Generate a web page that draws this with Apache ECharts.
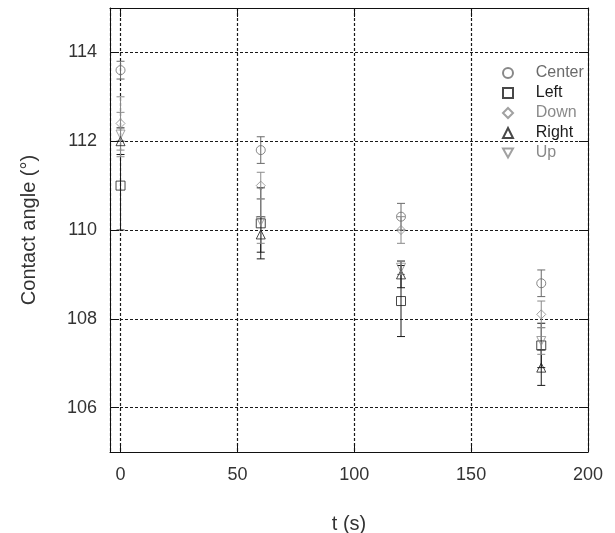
<!DOCTYPE html>
<html>
<head>
<meta charset="utf-8">
<script src="https://cdn.jsdelivr.net/npm/echarts@6/dist/echarts.min.js"></script>
<style>html,body{margin:0;padding:0;background:#fff;}#c{width:615px;height:533px;}</style>
</head>
<body>
<div id="c"></div>
<script>
// ---- data ----
const tValues = [0, 60, 120, 180];
const seriesNames = ['Center', 'Left', 'Down', 'Right', 'Up'];
const centerMean = [113.6, 111.8, 110.3, 108.8];
const centerErr  = [0.2, 0.3, 0.3, 0.3];
const leftMean   = [111.0, 110.15, 108.4, 107.4];
const leftErr    = [1.0, 0.8, 0.8, 0.5];
const downMean   = [112.4, 111.0, 110.0, 108.1];
const downErr    = [0.6, 0.3, 0.3, 0.3];
const rightMean  = [112.0, 109.9, 109.0, 106.9];
const rightErr   = [0.3, 0.4, 0.3, 0.4];
const upMean     = [112.15, 110.2, 109.15, 107.5];
const upErr      = [0.5, 0.5, 0.15, 0.3];
const xTickLabels = [0, 50, 100, 150, 200];
const yTickLabels = [106, 108, 110, 112, 114];

const means = [centerMean, leftMean, downMean, rightMean, upMean];
const errs = [centerErr, leftErr, downErr, rightErr, upErr];
const colors = ['#6a6a6a', '#1a1a1a', '#8a8a8a', '#1a1a1a', '#8a8a8a'];
const symbols = ['circle', 'rect', 'diamond', 'triangle', 'path://M0,0L10,0L5,9Z'];
const sizes = [9, 9, 9, 9, 9];

const FONT = "'Liberation Sans', Arial, sans-serif";

function errRender(color) {
  return function (params, api) {
    const x = api.value(0), lo = api.value(1), hi = api.value(2);
    const p1 = api.coord([x, hi]);
    const p2 = api.coord([x, lo]);
    const hw = 4;
    const style = { stroke: color, lineWidth: 1, fill: null };
    return {
      type: 'group',
      children: [
        { type: 'line', shape: { x1: p1[0], y1: p1[1], x2: p2[0], y2: p2[1] }, style: style },
        { type: 'line', shape: { x1: p1[0] - hw, y1: p1[1], x2: p1[0] + hw, y2: p1[1] }, style: style },
        { type: 'line', shape: { x1: p2[0] - hw, y1: p2[1], x2: p2[0] + hw, y2: p2[1] }, style: style }
      ]
    };
  };
}

const series = [];
seriesNames.forEach(function (name, i) {
  series.push({
    name: name + ' err',
    type: 'custom',
    renderItem: errRender(colors[i]),
    encode: { x: 0, y: [1, 2] },
    data: tValues.map(function (t, k) { return [t, means[i][k] - errs[i][k], means[i][k] + errs[i][k]]; }),
    z: 2,
    silent: true
  });
});
seriesNames.forEach(function (name, i) {
  series.push({
    name: name,
    type: 'scatter',
    symbol: symbols[i],
    symbolSize: sizes[i],
    data: tValues.map(function (t, k) { return [t, means[i][k]]; }),
    itemStyle: { color: 'rgba(255,255,255,0)', borderColor: colors[i], borderWidth: 1 },
    z: 3
  });
});

const axisLineStyle = { show: true, onZero: false, lineStyle: { color: '#111', width: 1 } };
const tickStyle = { show: true, inside: true, length: 9, lineStyle: { color: '#111' } };
const gridStyle = { show: true, lineStyle: { color: '#1a1a1a', type: [3, 2], width: 1.2 } };

const chart = echarts.init(document.getElementById('c'), null, { renderer: 'canvas' });
chart.setOption({
  animation: false,
  backgroundColor: '#fff',
  textStyle: { fontFamily: FONT },
  grid: { left: 110, right: 27, top: 8, bottom: 81, containLabel: false, outerBoundsMode: 'none' },
  legend: {
    orient: 'vertical',
    left: 497,
    top: 60,
    width: 118,
    itemWidth: 10,
    itemHeight: 10,
    itemGap: 4,
    formatter: function (name) { return '    ' + name; },
    data: seriesNames.map(function (n, i) {
      return { name: n, textStyle: { color: colors[i] } };
    }),
    textStyle: { fontFamily: FONT, fontSize: 16, overflow: 'none' }
  },
  xAxis: [{
    type: 'value',
    min: -4.5,
    max: 200,
    name: 't (s)',
    nameLocation: 'middle',
    nameGap: 62,
    nameTextStyle: { fontSize: 20, color: '#333', fontFamily: FONT },
    axisLine: axisLineStyle,
    axisTick: tickStyle,
    axisLabel: {
      margin: 14, fontSize: 18, color: '#333', fontFamily: FONT,
      formatter: function (v) { return xTickLabels.indexOf(v) >= 0 ? String(v) : ''; }
    },
    splitLine: gridStyle
  }, {
    type: 'value',
    position: 'top',
    min: -4.5,
    max: 200,
    axisLine: axisLineStyle,
    axisTick: tickStyle,
    axisLabel: { show: false },
    splitLine: { show: false }
  }],
  yAxis: [{
    type: 'value',
    min: 105,
    max: 115,
    name: 'Contact angle (°)',
    nameLocation: 'middle',
    nameGap: 71,
    nameTextStyle: { fontSize: 20, color: '#333', fontFamily: FONT },
    axisLine: axisLineStyle,
    axisTick: tickStyle,
    axisLabel: {
      margin: 13, fontSize: 18, color: '#333', fontFamily: FONT,
      formatter: function (v) { return yTickLabels.indexOf(v) >= 0 ? String(v) : ''; }
    },
    splitLine: gridStyle
  }, {
    type: 'value',
    position: 'right',
    min: 105,
    max: 115,
    axisLine: axisLineStyle,
    axisTick: tickStyle,
    axisLabel: { show: false },
    splitLine: { show: false }
  }],
  series: series
});
</script>
</body>
</html>
